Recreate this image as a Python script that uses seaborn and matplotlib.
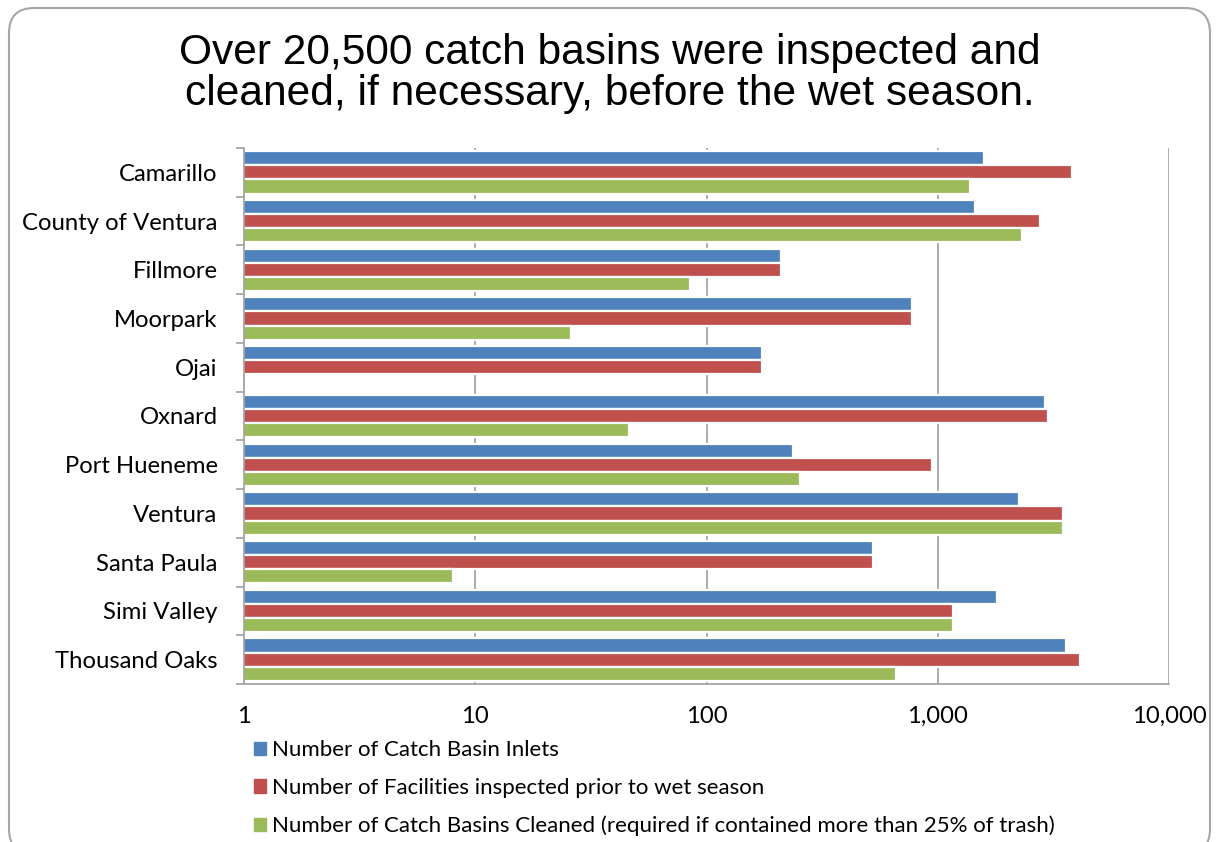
import numpy as np
import pandas as pd
import seaborn as sns
import matplotlib.pyplot as plt
import matplotlib.patches as mpatches
from matplotlib.ticker import FixedLocator, FuncFormatter, NullLocator

# datos (escala logaritmica)
ciudades = ["Camarillo", "County of Ventura", "Fillmore", "Moorpark", "Ojai", "Oxnard",
            "Port Hueneme", "Ventura", "Santa Paula", "Simi Valley", "Thousand Oaks"]
inlets = [1585, 1450, 210, 774, 174, 2917, 237, 2248, 525, 1807, 3589]
inspeccionados = [3813, 2773, 210, 774, 174, 3006, 945, 3486, 525, 1164, 4130]
limpiados = [1380, 2317, 85, 26, np.nan, 46, 254, 3486, 8, 1164, 661]

series = ["Number of Catch Basin Inlets",
          "Number of Facilities inspected prior to wet season",
          "Number of Catch Basins Cleaned (required if contained more than 25% of trash)"]
colores = ["#4F81BD", "#C0504D", "#9BBB59"]

df = pd.DataFrame({"ciudad": ciudades, series[0]: inlets,
                   series[1]: inspeccionados, series[2]: limpiados})
df_largo = df.melt(id_vars="ciudad", var_name="serie", value_name="valor")

sns.set_style("white")
plt.rcParams["font.family"] = ["Lato", "DejaVu Sans"]
plt.rcParams["text.color"] = "black"
plt.rcParams["xtick.color"] = "black"
plt.rcParams["ytick.color"] = "black"

fig = plt.figure(figsize=(12.19, 8.42), dpi=100)
ax = fig.add_axes([244 / 1219, 1 - 684 / 842, (1169 - 244) / 1219, (684 - 148) / 842])

sns.barplot(data=df_largo, x="valor", y="ciudad", hue="serie", order=ciudades,
            hue_order=series, palette=colores, saturation=1, width=0.87, orient="h",
            edgecolor="white", linewidth=1.6, ax=ax, legend=False)

ax.set_xscale("log")
ax.set_xlim(1, 10000)
ax.set_ylim(len(ciudades) - 0.5, -0.5)
ax.xaxis.set_major_locator(FixedLocator([1, 10, 100, 1000, 10000]))
ax.xaxis.set_minor_locator(NullLocator())
ax.xaxis.set_major_formatter(FuncFormatter(lambda v, p: f"{int(round(v)):,}"))
ax.set_yticks(range(len(ciudades)))
ax.set_yticks(np.arange(-0.5, len(ciudades), 1.0), minor=True)
ax.tick_params(axis="x", length=0, pad=16, labelsize=17.2, labelcolor="black")
ax.tick_params(axis="y", which="major", length=0, pad=19, labelsize=17.2, labelcolor="black")
ax.tick_params(axis="y", which="minor", length=6, width=1.3, color="#A6A6A6", left=True)
ax.set_xlabel("")
ax.set_ylabel("")

ax.grid(axis="x", color="#A6A6A6", linewidth=1.3)
ax.set_axisbelow(True)
for lado in ["top", "right"]:
    ax.spines[lado].set_visible(False)
for lado in ["left", "bottom"]:
    ax.spines[lado].set_color("#A6A6A6")
    ax.spines[lado].set_linewidth(1.3)

# leyenda abajo
handles = [mpatches.Patch(color=c, label=s) for c, s in zip(colores, series)]
fig.legend(handles=handles, loc="upper left", bbox_to_anchor=(243 / 1219, 1 - 729 / 842),
           frameon=False, fontsize=16, handlelength=0.55, handleheight=0.55,
           handletextpad=0.25, labelspacing=0.8, borderpad=0, labelcolor="black")

fig.text(0.5, 1 - 33 / 842, "Over 20,500 catch basins were inspected and\ncleaned, if necessary, before the wet season.",
         ha="center", va="top", fontsize=30.6, linespacing=1.02, family="Liberation Sans",
         color="black")

# marco de la diapositiva
marco = mpatches.FancyBboxPatch((9, -12), 1201, 842 - 8 + 12,
                                boxstyle="round,pad=0,rounding_size=25",
                                transform=None, fill=False, edgecolor="#A6A6A6", linewidth=1.5)
fig.add_artist(marco)

fig.savefig("out.png", dpi=100)
